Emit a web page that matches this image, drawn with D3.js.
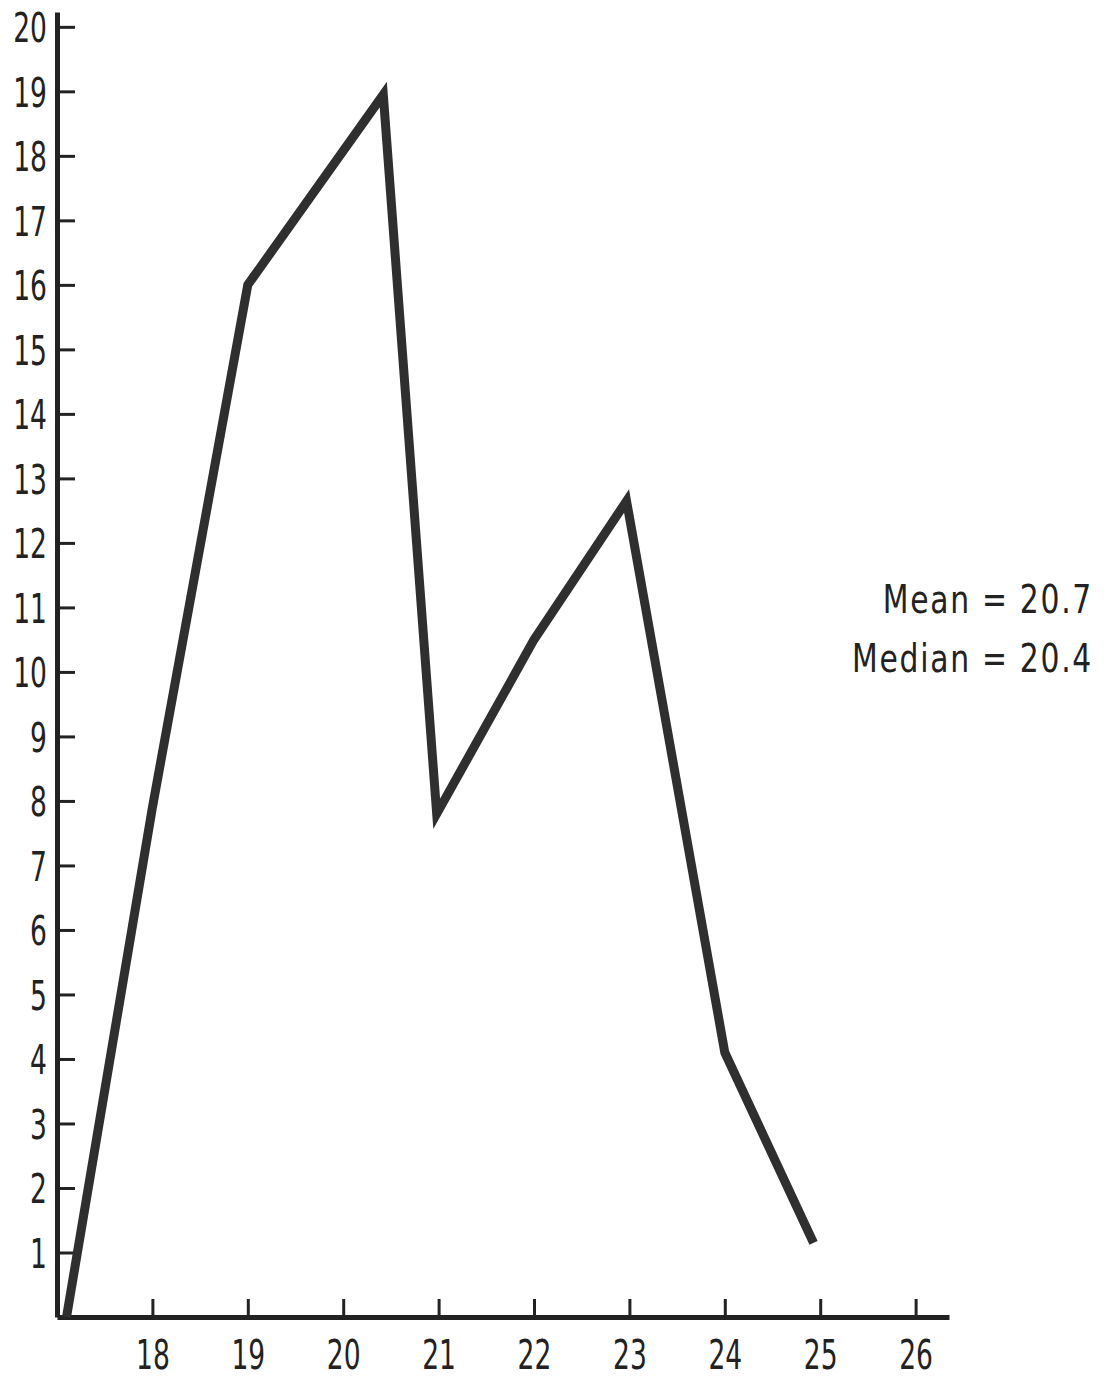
<!DOCTYPE html>
<html>
<head>
<meta charset="utf-8">
<script src="https://d3js.org/d3.v7.min.js"></script>
<style>
  body { margin: 0; background: #fff; }
  .chart text { font-family: "Liberation Sans Narrow", "DejaVu Sans Condensed", sans-serif; fill: #222; }
  .axis path, .axis line { stroke: #222; }
  .axis .domain { stroke-width: 5; }
  .axis .tick line { stroke-width: 3; }
  .axis .tick text { font-size: 41px; }
  .curve { fill: none; stroke: #2f2f2f; stroke-width: 9; stroke-linejoin: miter; stroke-linecap: butt; }
  .stats { font-size: 39px; letter-spacing: 2px; }
</style>
</head>
<body>
<div class="chart"></div>
<script>
let ages = [17.1, 18, 19, 20.42, 20.98, 22, 22.97, 24, 24.93];
let counts = [0, 7.9, 16, 18.95, 7.8, 10.5, 12.65, 4.1, 1.15];
let xTicks = [18, 19, 20, 21, 22, 23, 24, 25, 26];
let yTicks = d3.range(1, 21);
let statLabels = ["Mean = 20.7", "Median = 20.4"];

let width = 1110;
let height = 1380;
// the typewriter face is narrow, squeeze the glyphs sideways
let squeeze = 0.72;
let statSqueeze = 0.85;

let svg = d3.select(".chart")
  .append("svg")
  .attr("width", width)
  .attr("height", height);

let x = d3.scaleLinear()
  .domain([17, 26.35])
  .range([57, 949]);

let y = d3.scaleLinear()
  .domain([0, 20.23])
  .range([1317, 12]);

// y axis, ticks point into the plot
svg.append("g")
  .attr("class", "axis")
  .attr("transform", "translate(" + x(17) + ",0)")
  .call(d3.axisLeft(y)
    .tickValues(yTicks)
    .tickSizeInner(-18)
    .tickSizeOuter(0)
    .tickPadding(10)
    .tickFormat(d3.format("d")))
  .call(g => g.selectAll(".tick text")
    .attr("dy", "0.36em")
    .attr("x", -10 / squeeze)
    .attr("transform", "scale(" + squeeze + ",1)"));

// x axis, ticks point up
svg.append("g")
  .attr("class", "axis")
  .attr("transform", "translate(0," + y(0) + ")")
  .call(d3.axisBottom(x)
    .tickValues(xTicks)
    .tickSizeInner(-18)
    .tickSizeOuter(0)
    .tickPadding(23)
    .tickFormat(d3.format("d")))
  .call(g => g.selectAll(".tick text")
    .attr("dy", "0.71em")
    .attr("transform", "scale(" + squeeze + ",1)"));

let line = d3.line()
  .x((d, i) => x(ages[i]))
  .y(d => y(d));

svg.append("path")
  .datum(counts)
  .attr("class", "curve")
  .attr("d", line);

svg.selectAll(".stat")
  .data(statLabels)
  .enter()
  .append("g")
  .attr("class", "stat")
  .attr("transform", (d, i) => "translate(1093," + (613 + i * 59) + ")")
  .append("text")
  .attr("class", "stats")
  .attr("text-anchor", "end")
  .attr("transform", "scale(" + statSqueeze + ",1)")
  .text(d => d);
</script>
</body>
</html>
